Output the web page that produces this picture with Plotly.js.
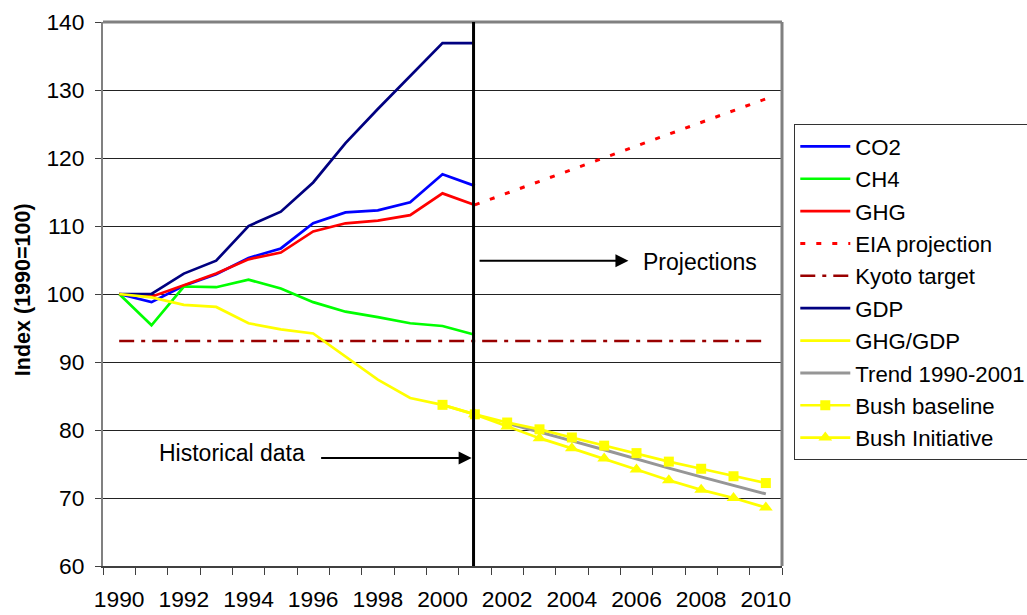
<!DOCTYPE html>
<html>
<head>
<meta charset="utf-8">
<script src="https://cdn.plot.ly/plotly-3.0.1.min.js"></script>
<style>html,body{margin:0;padding:0;background:#fff;}#chart{width:1027px;height:615px;}</style>
</head>
<body>
<div id="chart"></div>
<script>
// Historical data 1990-2001
const histYears = [1990,1991,1992,1993,1994,1995,1996,1997,1998,1999,2000,2001];
const co2    = [100, 98.8, 101.2, 102.9, 105.3, 106.7, 110.4, 112.0, 112.3, 113.5, 117.6, 115.9];
const ch4    = [100, 95.4, 101.1, 101.0, 102.1, 100.8, 98.8, 97.4, 96.6, 95.7, 95.3, 94.0];
const ghg    = [100, 99.6, 101.3, 103.0, 105.1, 106.1, 109.2, 110.4, 110.8, 111.6, 114.8, 113.1];
const gdp    = [100, 100, 103.0, 104.9, 110.0, 112.1, 116.4, 122.2, 127.2, 132.1, 136.9, 136.9];
const ghgGdp = [100, 99.5, 98.4, 98.1, 95.7, 94.8, 94.2, 90.8, 87.4, 84.7, 83.7, 82.3];

// Projections
const eiaYears = [2001, 2010];
const eia      = [113.1, 128.7];
const kyotoYears = [1990, 2010];
const kyoto      = [93.1, 93.1];
const trendYears = [2002,2003,2004,2005,2006,2007,2008,2009,2010];
const trend      = [81.0, 79.75, 78.4, 77.1, 75.7, 74.4, 73.1, 71.8, 70.6];
const baseYears  = [2000,2001,2002,2003,2004,2005,2006,2007,2008,2009,2010];
const baseline   = [83.7, 82.3, 81.1, 80.1, 78.9, 77.7, 76.6, 75.35, 74.3, 73.2, 72.2];
const initYears  = [2001,2002,2003,2004,2005,2006,2007,2008,2009,2010];
const initiative = [82.3, 80.5, 78.8, 77.3, 75.8, 74.2, 72.6, 71.2, 70.0, 68.6];

const xTicks = [1990,1992,1994,1996,1998,2000,2002,2004,2006,2008,2010];
const xTickText = xTicks.map(String);
const yTicks = [60,70,80,90,100,110,120,130,140];

const FONT = 'Liberation Sans, Arial, sans-serif';
const FS = 22.8;
const W = 2.7;

function tr(name, x, y, color, extra) {
  return Object.assign({
    type: 'scatter', mode: 'lines', name: name, x: x, y: y,
    line: {color: color, width: W}, legendgroup: name, hoverinfo: 'skip'
  }, extra || {});
}

const traces = [
  tr('CO2', histYears, co2, '#0000FF'),
  tr('CH4', histYears, ch4, '#00FF00'),
  tr('GHG', histYears, ghg, '#FF0000'),
  tr('EIA projection', eiaYears, eia, '#FF0000', {line: {color: '#FF0000', width: 3, dash: '5px,11px'}}),
  tr('Kyoto target', kyotoYears, kyoto, '#990000', {line: {color: '#990000', width: 2.5, dash: '15px,7px,4px,7px'}}),
  tr('GDP', histYears, gdp, '#000080'),
  tr('GHG/GDP', histYears, ghgGdp, '#FFFF00'),
  tr('Trend 1990-2001', trendYears, trend, '#969696', {line: {color: '#969696', width: 3}}),
  tr('Bush baseline', baseYears, baseline, '#FFFF00', {mode: 'lines+markers', marker: {symbol: 'square', size: 10, color: '#FFFF00'}}),
  tr('Bush Initiative', initYears, initiative, '#FFFF00', {mode: 'lines+markers', marker: {symbol: 'triangle-up', size: 12, color: '#FFFF00'}})
];

const layout = {
  width: 1027, height: 615,
  margin: {l: 102.7, r: 245.3, t: 22.3, b: 49, pad: 0, autoexpand: false},
  paper_bgcolor: '#fff', plot_bgcolor: '#fff',
  font: {family: FONT, size: FS, color: '#000'},
  showlegend: true,
  legend: {
    x: 1.0181, y: 0.8117, xanchor: 'left', yanchor: 'top',
    bgcolor: '#fff', bordercolor: '#333', borderwidth: 1,
    font: {family: FONT, size: 22.2, color: '#000'},
    tracegroupgap: 0.5, itemwidth: 50
  },
  xaxis: {
    range: [1989.5, 2010.5], tickmode: 'array', tickvals: xTicks, ticktext: xTickText,
    ticks: '', showgrid: false, zeroline: false,
    showline: true, linecolor: '#404040', linewidth: 2,
    tickfont: {family: FONT, size: FS, color: '#000'},
    ticklabelstandoff: 12,
    minor: {ticks: 'outside', tick0: 1989.5, dtick: 1, ticklen: 7, tickcolor: '#404040', tickwidth: 1, showgrid: false}
  },
  yaxis: {
    range: [60, 140], tickmode: 'array', tickvals: yTicks,
    ticks: 'outside', ticklen: 6, tickcolor: '#404040', tickwidth: 1,
    showgrid: true, gridcolor: '#222', gridwidth: 1, zeroline: false,
    showline: true, linecolor: '#808080', linewidth: 2,
    tickfont: {family: FONT, size: FS, color: '#000'},
    ticklabelstandoff: 6
  },
  shapes: [
    {type: 'line', xref: 'paper', yref: 'paper', x0: 0, x1: 1, y0: 1, y1: 1, line: {color: '#808080', width: 3}},
    {type: 'line', xref: 'paper', yref: 'paper', x0: 1, x1: 1, y0: 0, y1: 1, line: {color: '#808080', width: 3}},
    {type: 'line', xref: 'x', yref: 'paper', x0: 2000.96, x1: 2000.96, y0: 0, y1: 1, line: {color: '#000', width: 3}}
  ],
  annotations: [
    {x: -0.1174, y: 0.5076, xref: 'paper', yref: 'paper', text: '<b>Index (1990=100)</b>', textangle: -90,
     showarrow: false, xanchor: 'center', yanchor: 'middle', font: {family: FONT, size: 21.5, color: '#000'}},
    {x: 2000.9, y: 75.9, ax: 1996.2, ay: 75.9, axref: 'x', ayref: 'y', xref: 'x', yref: 'y',
     text: '', showarrow: true, arrowhead: 2, arrowsize: 1.3, arrowwidth: 2, arrowcolor: '#000'},
    {x: 1993.5, y: 76.6, xref: 'x', yref: 'y', text: 'Historical data', showarrow: false,
     font: {family: FONT, size: 23, color: '#000'}},
    {x: 2005.75, y: 104.9, ax: 2001.1, ay: 104.9, axref: 'x', ayref: 'y', xref: 'x', yref: 'y',
     text: '', showarrow: true, arrowhead: 2, arrowsize: 1.3, arrowwidth: 2, arrowcolor: '#000'},
    {x: 2007.97, y: 104.7, xref: 'x', yref: 'y', text: 'Projections', showarrow: false,
     font: {family: FONT, size: 23, color: '#000'}}
  ]
};

Plotly.newPlot('chart', traces, layout, {displayModeBar: false, staticPlot: true});
</script>
</body>
</html>
